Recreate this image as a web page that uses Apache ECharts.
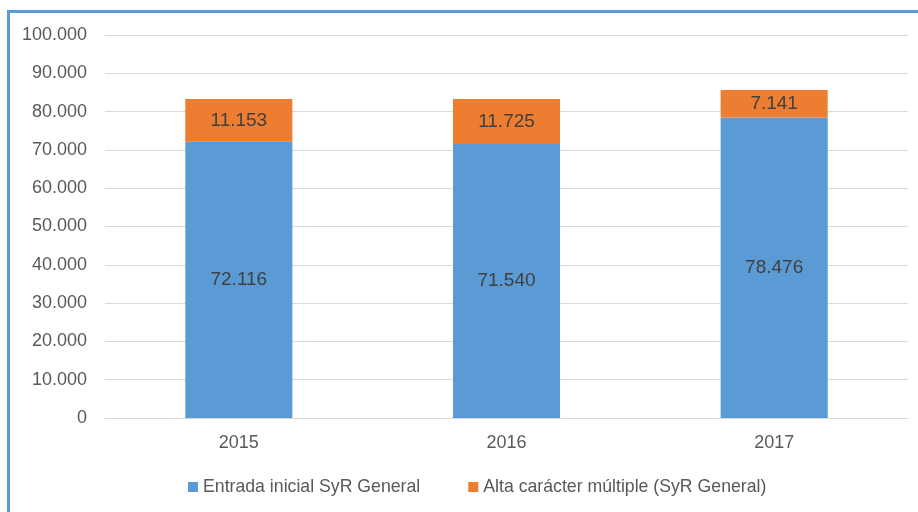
<!DOCTYPE html>
<html><head><meta charset="utf-8">
<script src="https://cdn.jsdelivr.net/npm/echarts@6/dist/echarts.min.js"></script>
<style>
html,body{margin:0;padding:0;background:#fff;overflow:hidden}
#frame{position:absolute;left:7px;top:10px;width:1000px;height:1000px;border-left:3px solid #5b9bd5;border-top:3px solid #5b9bd5;}
#c{position:absolute;left:0;top:0;width:918px;height:512px}
</style></head><body>
<div id="frame"></div>
<div id="c"></div>
<script>
var categories = ['2015','2016','2017'];
var entradaInicial = [72116, 71540, 78476];
var altaMultiple = [11153, 11725, 7141];
var seriesNames = ['Entrada inicial SyR General', 'Alta carácter múltiple (SyR General)'];

function fmt(v){ return String(v).replace(/\B(?=(\d{3})+(?!\d))/g, '.'); }
var font = 'Liberation Sans';
var chart = echarts.init(document.getElementById('c'));
chart.setOption({
  animation:false,
  textStyle:{fontFamily:font},
  grid:{left:105, right:10, top:35, bottom:94, containLabel:false},
  legend:{
    bottom:11, left:183, itemWidth:10, itemHeight:10, itemGap:48, icon:'rect',
    textStyle:{fontFamily:font, fontSize:17.7, color:'#595959'},
    data:seriesNames
  },
  xAxis:{
    type:'category', data:categories,
    axisLine:{show:true, lineStyle:{color:'#d9d9d9'}},
    axisTick:{show:false},
    axisLabel:{fontSize:18, color:'#595959', margin:16, fontFamily:font}
  },
  yAxis:{
    type:'value', min:0, max:100000, interval:10000,
    axisLine:{show:false}, axisTick:{show:false},
    splitLine:{lineStyle:{color:'#d9d9d9'}},
    axisLabel:{fontSize:18, color:'#595959', margin:18, fontFamily:font, formatter:function(v){return fmt(v);}}
  },
  series:[
    {name:seriesNames[0], type:'bar', stack:'t', data:entradaInicial, barWidth:'40%',
     itemStyle:{color:'#5b9bd5'},
     label:{show:true, position:'inside', fontSize:19, color:'#404040', fontFamily:font, formatter:function(p){return fmt(p.value);}}},
    {name:seriesNames[1], type:'bar', stack:'t', data:altaMultiple, barWidth:'40%',
     itemStyle:{color:'#ed7d31'},
     label:{show:true, position:'inside', fontSize:19, color:'#404040', fontFamily:font, formatter:function(p){return fmt(p.value);}}}
  ]
});
</script>
</body></html>
